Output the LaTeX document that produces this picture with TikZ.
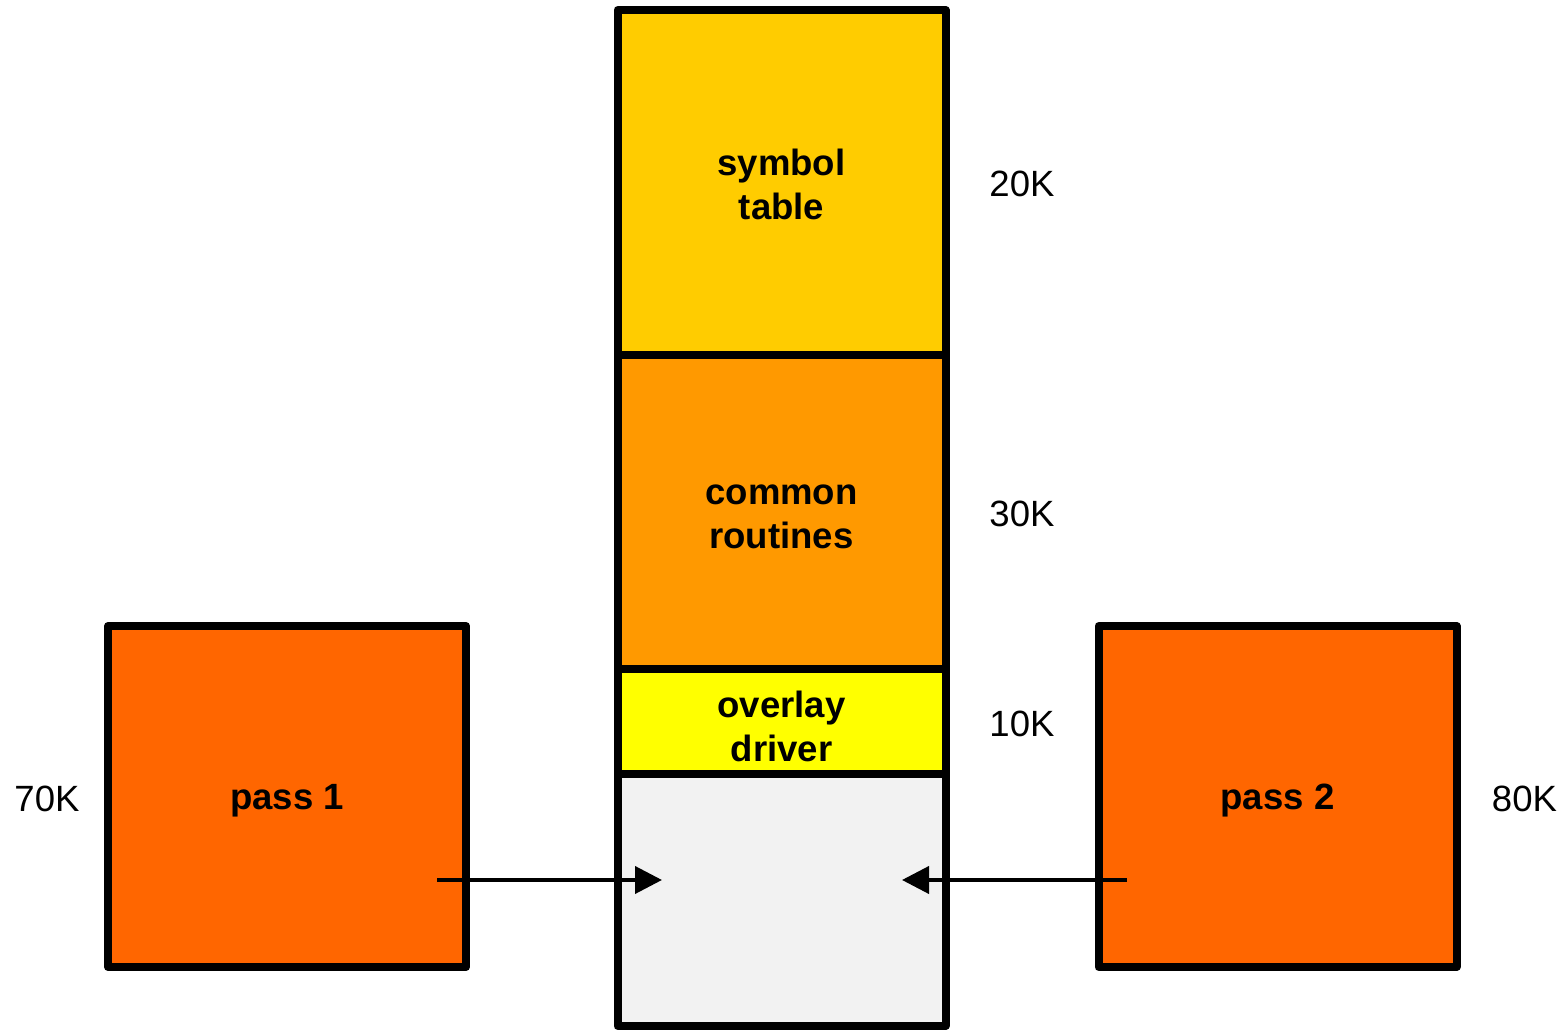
\documentclass[tikz,border=0pt]{standalone}
\usepackage{fontspec}
\setmainfont{Liberation Sans}
\usetikzlibrary{arrows.meta}

\definecolor{symcol}{HTML}{FFCC00}
\definecolor{comcol}{HTML}{FF9900}
\definecolor{drvcol}{HTML}{FFFF00}
\definecolor{freecol}{HTML}{F2F2F2}
\definecolor{passcol}{HTML}{FF6600}

\begin{document}
\begin{tikzpicture}[line width=0.08cm, line join=round,
  font=\fontsize{10.4}{12.5}\selectfont,
  block/.style={draw, rectangle, inner sep=0pt, minimum width=3.28cm},
  txt/.style={align=center, inner sep=0pt, yshift=-0.045cm, font=\fontsize{10.4}{12.5}\selectfont\bfseries},
  passbox/.style={block, fill=passcol, minimum width=3.58cm, minimum height=3.41cm},
  size/.style={inner sep=0pt}]

\useasboundingbox (0,0) rectangle (15.66,10.30);

% memory column
\node [block, fill=symcol, minimum height=3.45cm, label={[txt, yshift=0.03cm]center:{symbol\\table}}] (symtab) at (7.815,8.475) {};
\node [block, fill=comcol, minimum height=3.145cm, label={[txt]center:{common\\routines}}] (common) at (7.815,5.1775) {};
\node [block, fill=drvcol, minimum height=1.05cm, label={[txt]center:{overlay\\driver}}] (driver) at (7.815,3.08) {};
\node [block, fill=freecol, minimum height=2.515cm] (free) at (7.815,1.2975) {};

% the two passes
\node [passbox, label={[txt]center:pass 1}] (pass1) at (2.87,2.335) {};
\node [passbox, label={[txt]center:pass 2}] (pass2) at (12.775,2.335) {};

\node [size] (k20) at (10.22,8.46) {20K};
\node [size] (k30) at (10.22,5.16) {30K};
\node [size] (k10) at (10.22,3.06) {10K};
\node [size] (k70) at (0.47,2.31) {70K};
\node [size] (k80) at (15.245,2.31) {80K};

\coordinate (out1) at (4.37,1.50);
\coordinate (in1) at (6.62,1.50);
\coordinate (out2) at (11.27,1.50);
\coordinate (in2) at (9.02,1.50);

\draw [line width=0.04cm, -{Triangle[length=0.27cm,width=0.27cm]}] (out1) -- (in1);
\draw [line width=0.04cm, -{Triangle[length=0.27cm,width=0.27cm]}] (out2) -- (in2);
\end{tikzpicture}
\end{document}
